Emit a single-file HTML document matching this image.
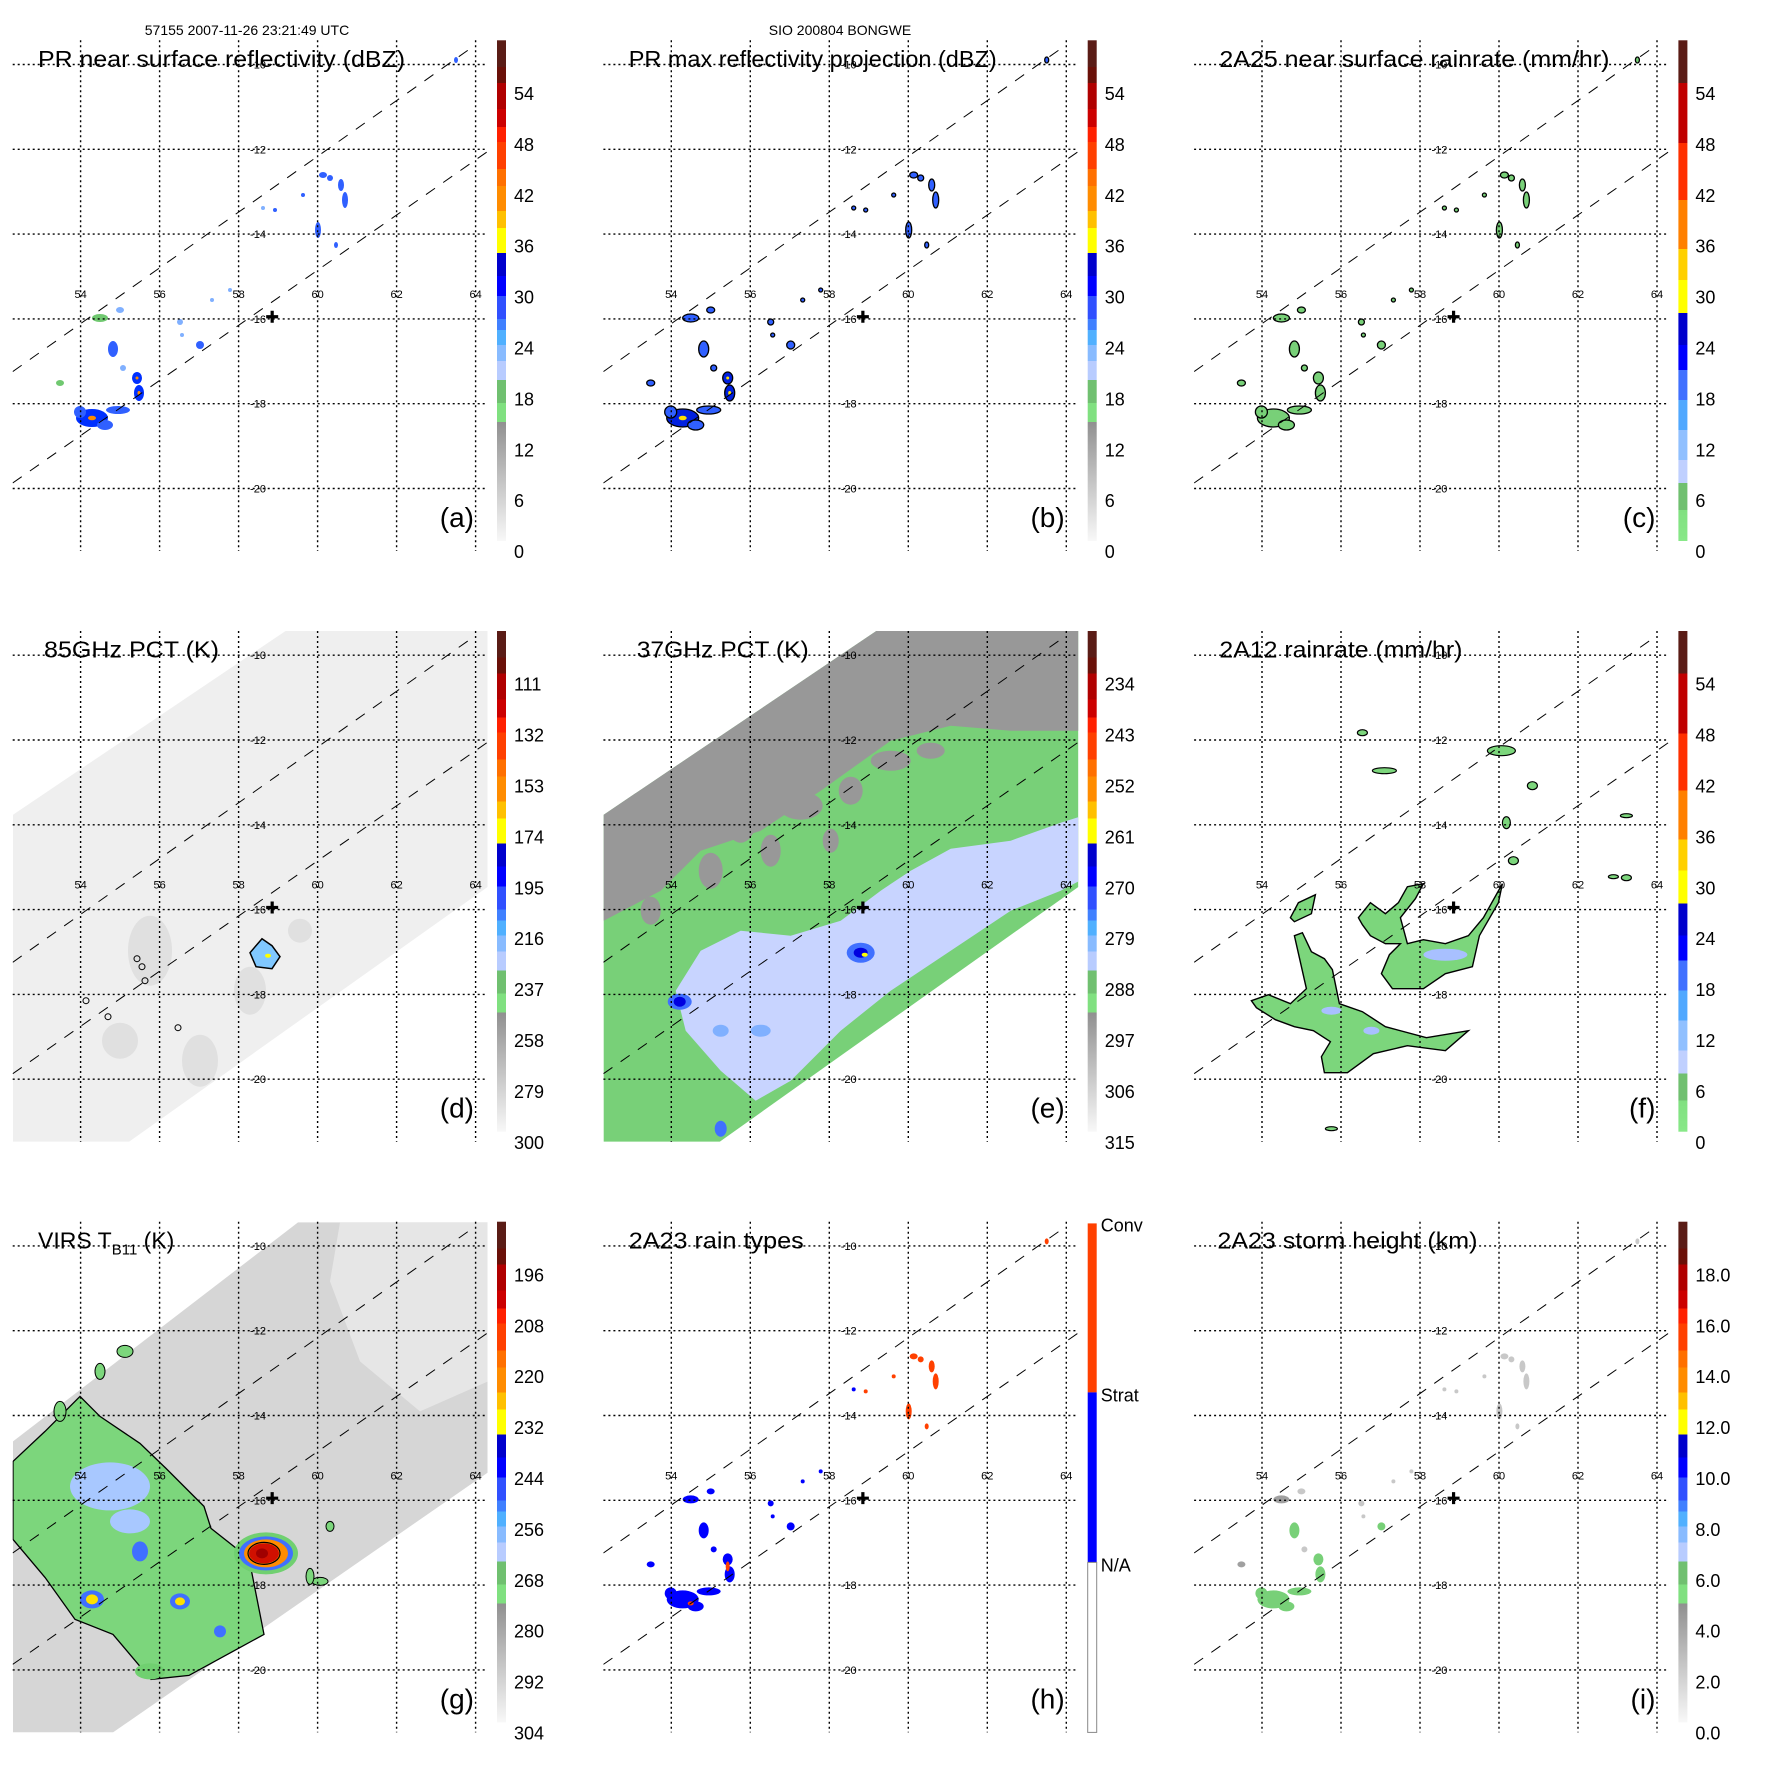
<!DOCTYPE html>
<html><head><meta charset="utf-8"><title>TRMM overpass 57155 – BONGWE</title>
<style>html,body{margin:0;padding:0;background:#fff}svg{display:block}text{font-family:"Liberation Sans",sans-serif}</style>
</head><body>
<svg id="fig" xmlns="http://www.w3.org/2000/svg" width="1771" height="1771" viewBox="0 0 1771 1771"></svg>
<script>
// ---- data ----
const lonTicks = [54,56,58,60,62,64];
const latTicks = [-10,-12,-14,-16,-18,-20];
const panelTitles = ["PR near surface reflectivity (dBZ)","PR max reflectivity projection (dBZ)","2A25 near surface rainrate (mm/hr)","85GHz PCT (K)","37GHz PCT (K)","2A12 rainrate (mm/hr)","VIRS T","2A23 rain types","2A23 storm height (km)"];
const panelLetters = ["(a)","(b)","(c)","(d)","(e)","(f)","(g)","(h)","(i)"];
const cbA = ["54","48","42","36","30","24","18","12","6","0"];
const cbD = ["111","132","153","174","195","216","237","258","279","300"];
const cbE = ["234","243","252","261","270","279","288","297","306","315"];
const cbG = ["196","208","220","232","244","256","268","280","292","304"];
const cbI = ["18.0","16.0","14.0","12.0","10.0","8.0","6.0","4.0","2.0","0.0"];
const cbLabels = [cbA,cbA,cbA,cbD,cbE,cbA,cbG,null,cbI];
const stormLon = 58.85, stormLat = -15.95;

// ---- geometry ----
const NS="http://www.w3.org/2000/svg";
const svg=document.getElementById('fig');
const P=590.7, L=12.7, R=487.5, T=40.3, B=551;
function px(lon){return 80.6+(lon-54)*39.5;}
function py(lat){return 64.5+(-10-lat)*42.4;}
function mk(tag,at,parent){const e=document.createElementNS(NS,tag);for(const k in at)e.setAttribute(k,at[k]);(parent||svg).appendChild(e);return e;}
function poly(g,pts,fill,stroke,sw){return mk('polygon',{points:pts.map(p=>p.join(',')).join(' '),fill:fill,stroke:stroke||'none','stroke-width':sw||1},g);}

const stdStops=[[40,'#5a1c16'],[67,'#6a1008'],[83,'#b00000'],[109,'#cc0000'],[127,'#ff2000'],[142,'#ff4000'],[169,'#ff7000'],[186,'#ff8c00'],[211,'#ffc000'],[228,'#ffff00'],[253,'#0000cc'],[276,'#0000ff'],[296,'#3050ff'],[319,'#4080ff'],[330,'#50b0ff'],[345,'#88bbff'],[361,'#b8ccff'],[380,'#70c070'],[403,'#80e080'],[422,'#909090']];
const rainStops=[[40,'#5a1c16'],[83,'#c00000'],[143,'#ff3000'],[200,'#ff8000'],[249,'#ffd000'],[280,'#ffff00'],[313,'#0000cc'],[345,'#0000ff'],[370,'#4070ff'],[400,'#50a8ff'],[430,'#90c0ff'],[460,'#c0d0ff'],[483,'#70c070'],[510,'#80e080']];

// precip cells (local px, rx, ry, type)
const cells=[[92,418,16,9,'s'],[80,412,6,6,'m'],[105,425,8,5,'m'],[118,410,12,4,'m'],[113,349,5,8,'m'],[137,378,5,6,'s'],[139,393,5,8,'s'],[123,368,3,3,'w'],[200,345,4,4,'m'],[180,322,3,3,'w'],[182,335,2,2,'w'],[100,318,8,4,'g'],[120,310,4,3,'w'],[60,383,4,3,'g'],[323,175,4,3,'u'],[330,178,3,3,'u'],[341,185,3,6,'u'],[345,200,3,8,'u'],[318,230,3,8,'u'],[336,245,2,3,'u'],[303,195,2,2,'u'],[275,210,2,2,'u'],[263,208,2,2,'w'],[456,60,2,3,'u'],[212,300,2,2,'w'],[230,290,2,2,'w']];

const defs=mk('defs',{});
for(let i=0;i<9;i++){
  const c=i%3, r=Math.floor(i/3);
  const g=mk('g',{transform:`translate(${(c*P).toFixed(1)},${(r*P).toFixed(1)})`});
  
  
  const cp=mk('clipPath',{id:'cp'+i},defs); mk('rect',{x:L,y:T,width:R-L,height:B-T},cp);
  const map=mk('g',{'clip-path':`url(#cp${i})`},g);
  
  
  drawBackground(i,map);
  drawCells(i,map);
  const grid=mk('g',{stroke:'#000','stroke-width':1.4,'stroke-dasharray':'2 3',fill:'none'},g);
  
  
  lonTicks.forEach(lon=>{const l=mk('line',{x1:px(lon),x2:px(lon),y1:T,y2:B},grid);
    
    });
  latTicks.forEach(lat=>{const l=mk('line',{x1:L,x2:R,y1:py(lat),y2:py(lat)},grid);
    
    });
  const sw=mk('g',{stroke:'#000','stroke-width':1,'stroke-dasharray':'11 10',fill:'none','clip-path':`url(#cp${i})`},g);
  
  
  mk('line',{x1:L,y1:371.6,x2:475,y2:371.6-0.706*(475-L)},sw);
  mk('line',{x1:L,y1:483,x2:R,y2:483-0.698*(R-L)},sw);
  lonTicks.forEach(lon=>{const t=mk('text',{x:px(lon),y:298,'font-size':11,'text-anchor':'middle'},g);t.textContent=lon;
    
    });
  latTicks.forEach(lat=>{const t=mk('text',{x:258,y:py(lat)+4,'font-size':11,'text-anchor':'middle'},g);t.textContent=lat;
    
    });
  const cx=px(stormLon), cy=py(stormLat);
  const cr=mk('path',{d:`M${cx-6},${cy}H${cx+6}M${cx},${cy-6}V${cy+6}`,stroke:'#000','stroke-width':3.2},g);
  
  
  const tx=[38,38,38,44,46,38,38,38,36][i], tw=[367,368,390,175,172,243,0,175,260][i];
  const tt=mk('text',{x:tx,y:67,'font-size':23},g);
  if(i===6){tt.innerHTML='VIRS T<tspan font-size="15" dy="6">B11</tspan><tspan dy="-6"> (K)</tspan>';}
  else{tt.textContent=panelTitles[i];tt.setAttribute('textLength',tw);tt.setAttribute('lengthAdjust','spacingAndGlyphs');}
  
  
  const lt=mk('text',{x:474,y:527,'font-size':28,'text-anchor':'end'},g);lt.textContent=panelLetters[i];
  
  
  drawColorbar(i,g);
}
const h1=mk('text',{x:247,y:35,'font-size':14,'text-anchor':'middle'});h1.textContent='57155 2007-11-26 23:21:49 UTC';


const h2=mk('text',{x:840,y:35,'font-size':14,'text-anchor':'middle'});h2.textContent='SIO 200804 BONGWE';



function drawColorbar(i,g){
  const cb=mk('g',{},g);
  
  
  const x0=497,w=9;
  if(i===7){
    mk('rect',{x:x0,y:42,width:w,height:169,fill:'#ff4000'},cb);
    mk('rect',{x:x0,y:211,width:w,height:170,fill:'#0000ff'},cb);
    mk('rect',{x:x0,y:381,width:w,height:170,fill:'#fff',stroke:'#888','stroke-width':1},cb);
    [['Conv',50],['Strat',220],['N/A',390]].forEach(([s,y])=>{const t=mk('text',{x:510,y:y,'font-size':18},cb);t.textContent=s;
      
      });
    return;
  }
  const stops=(i===2||i===5)?rainStops:stdStops;
  const gid='gr'+i; const lg=mk('linearGradient',{id:gid,x1:0,y1:0,x2:0,y2:1},defs);
  const H=B-10-T;
  for(let k=0;k<stops.length;k++){
    const y0=stops[k][0], y1=k+1<stops.length?stops[k+1][0]:null;
    mk('stop',{offset:((y0-T)/H).toFixed(4),'stop-color':stops[k][1]},lg);
    if(y1!==null) mk('stop',{offset:((y1-T)/H).toFixed(4),'stop-color':stops[k][1]},lg);
  }
  if(stops===stdStops) mk('stop',{offset:1,'stop-color':'#f8f8f8'},lg);
  else mk('stop',{offset:1,'stop-color':'#88e888'},lg);
  mk('rect',{x:x0,y:T,width:w,height:H,fill:`url(#${gid})`},cb);
  cbLabels[i].forEach((s,k)=>{const t=mk('text',{x:514,y:94+k*50.9+6,'font-size':18},cb);t.textContent=s;
    
    });
}

function drawBackground(i,g){
  const swA=[[13,224],[286,40],[488,40],[488,296],[129,551],[13,551]];
  if(i===3){
    poly(g,swA,'#efefef');
    [[150,360,22,35],[200,470,18,26],[120,450,18,18],[250,400,16,24],[300,340,12,12]].forEach(b=>mk('ellipse',{cx:b[0],cy:b[1],rx:b[2],ry:b[3],fill:'#e0e0e0'},g));
    poly(g,[[250,362],[262,348],[272,355],[280,366],[272,378],[256,376]],'#80c8ff','#000',1.5);
    mk('ellipse',{cx:268,cy:365,rx:3,ry:2,fill:'#ffff00'},g);
    [[137,368],[145,390],[86,410],[108,426],[178,437],[142,376]].forEach(p=>mk('ellipse',{cx:p[0],cy:p[1],rx:3,ry:3,fill:'none',stroke:'#000','stroke-width':1},g));
  } else if(i===4){
    poly(g,swA,'#78d078');
    poly(g,[[13,224],[286,40],[488,40],[488,140],[420,140],[360,135],[300,150],[230,200],[170,240],[110,260],[70,300],[13,330]],'#989898');
    [[150,230,15,22],[210,215,22,14],[120,280,12,18],[300,170,20,10],[260,200,12,14],[180,260,10,16],[240,250,8,12],[340,160,14,8],[60,320,10,14]].forEach(b=>mk('ellipse',{cx:b[0],cy:b[1],rx:b[2],ry:b[3],fill:'#989898'},g));
    poly(g,[[489,226],[470,232],[420,250],[360,258],[320,280],[290,300],[250,330],[200,345],[150,340],[110,360],[85,400],[95,440],[130,480],[165,510],[200,490],[250,440],[300,400],[360,360],[420,320],[470,300],[489,290]],'#c8d4ff');
    [[270,362,14,10,'#4070ff'],[270,362,7,5,'#0000e0'],[89,411,12,8,'#4070ff'],[89,411,6,5,'#0000e0'],[170,440,10,6,'#80b0ff'],[130,440,8,6,'#80b0ff']].forEach(b=>mk('ellipse',{cx:b[0],cy:b[1],rx:b[2],ry:b[3],fill:b[4]},g));
    mk('ellipse',{cx:274,cy:364,rx:3,ry:2,fill:'#ffff00'},g);
    mk('ellipse',{cx:130,cy:538,rx:6,ry:8,fill:'#4070ff'},g);
  } else if(i===5){
    const A=[[70,410],[87,404],[109,413],[125,398],[113,345],[121,342],[130,361],[143,368],[151,379],[158,413],[181,421],[204,436],[245,447],[287,440],[264,460],[226,455],[192,463],[166,482],[143,482],[140,466],[149,451],[132,440],[113,436],[94,429],[75,417]];
    const Bp=[[177,327],[189,312],[204,323],[217,312],[226,296],[242,293],[234,308],[219,327],[226,353],[242,349],[264,353],[287,345],[302,327],[321,293],[317,312],[298,345],[291,376],[264,383],[242,398],[211,398],[200,383],[208,364],[219,353],[204,353],[189,345],[181,334]];
    const C=[[109,327],[117,312],[134,304],[130,323],[113,331]];
    [A,Bp,C].forEach(p=>poly(g,p,'#7cd67c','#000',1.4));
    [[264,364,22,6],[150,420,10,4],[190,440,8,4]].forEach(b=>mk('ellipse',{cx:b[0],cy:b[1],rx:b[2],ry:b[3],fill:'#a8c0ff'},g));
    [[320,160,14,5],[181,142,5,3],[203,180,12,3],[351,195,5,4],[325,232,4,6],[332,270,5,4],[445,225,6,2],[432,286,5,2],[445,287,5,3],[150,538,6,2]].forEach(b=>mk('ellipse',{cx:b[0],cy:b[1],rx:b[2],ry:b[3],fill:'#7cd67c',stroke:'#000','stroke-width':1.2},g));
  } else if(i===6){
    poly(g,[[13,260],[298,41],[488,41],[488,291],[113,551],[13,551]],'#d6d6d6');
    poly(g,[[340,41],[488,41],[488,200],[420,230],[360,180],[330,100]],'#e6e6e6');
    poly(g,[[45,250],[80,215],[100,235],[140,262],[166,287],[204,325],[211,347],[249,377],[264,453],[189,494],[151,498],[113,453],[75,438],[45,396],[13,358],[13,280]],'#7cd67c','#000',1.3);
    [[110,305,40,24,'#a8c8ff'],[130,340,20,12,'#a8c8ff'],[140,370,8,10,'#4070ff'],[92,418,12,9,'#4070ff'],[92,418,6,5,'#ffe000'],[180,420,10,8,'#4070ff'],[180,420,5,4,'#ffe000'],[220,450,6,6,'#4070ff'],[150,490,15,8,'#70d070']].forEach(b=>mk('ellipse',{cx:b[0],cy:b[1],rx:b[2],ry:b[3],fill:b[4]},g));
    [[266,372,32,21,'#70d070'],[266,372,27,17,'#4070ff'],[266,372,22,14,'#ff8c00'],[264,372,15,10,'#d01000'],[262,372,6,5,'#a00000']].forEach(b=>mk('ellipse',{cx:b[0],cy:b[1],rx:b[2],ry:b[3],fill:b[4]},g));
    mk('ellipse',{cx:264,cy:372,rx:16,ry:11,fill:'none',stroke:'#000','stroke-width':1.2},g);
    [[320,400,8,4],[310,395,4,8],[330,345,4,5],[60,230,6,10],[100,190,5,8],[125,170,8,6]].forEach(b=>mk('ellipse',{cx:b[0],cy:b[1],rx:b[2],ry:b[3],fill:'#7cd67c',stroke:'#000','stroke-width':1},g));
  }
}

function drawCells(i,g){
  if(i===3||i===4||i===5||i===6) return;
  cells.forEach(c=>{
    const [x,y,rx,ry,t]=c; let fill,stroke='none';
    if(i===0){fill=t==='g'?'#70c870':t==='s'?'#0030ff':t==='w'?'#80b0ff':'#3060ff';}
    else if(i===1){fill=t==='s'?'#0020e0':'#3060ff';stroke='#000';}
    else if(i===2){fill='#78d078';stroke='#000';}
    else if(i===7){fill=t==='u'?'#ff4000':'#0000ff';}
    else if(i===8){fill=t==='u'||t==='w'?'#c8c8c8':t==='g'?'#a0a0a0':'#78d078';}
    const e=mk('ellipse',{cx:x,cy:y,rx:rx,ry:ry,fill:fill,stroke:stroke,'stroke-width':1.3},g);
    
    
    if(t==='s'&&(i===0||i===1)) mk('ellipse',{cx:x,cy:y,rx:Math.max(1.5,rx/4),ry:Math.max(1.5,ry/4),fill:i===1?'#ffe000':'#ff8c00'},g);
  });
  if(i===7){mk('ellipse',{cx:137,cy:385,rx:2,ry:5,fill:'#ff4000'},g);mk('ellipse',{cx:100,cy:422,rx:3,ry:2,fill:'#ff4000'},g);}
}
</script>
</body></html>
